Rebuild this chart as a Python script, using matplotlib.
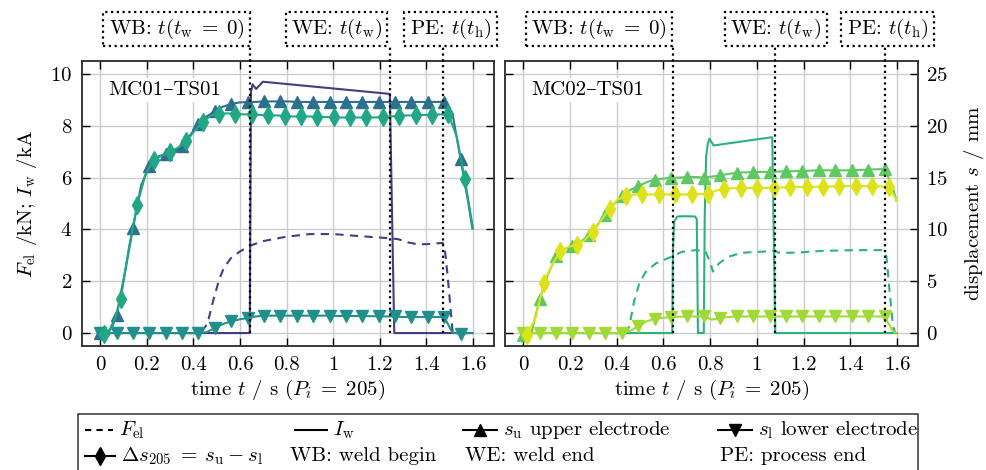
import numpy as np
import matplotlib.pyplot as plt
from matplotlib.lines import Line2D
from matplotlib.patches import Rectangle

plt.rcParams['font.family'] = ['cmr10', 'DejaVu Serif']
plt.rcParams['mathtext.fontset'] = 'cm'
plt.rcParams['axes.formatter.use_mathtext'] = True
plt.rcParams['font.size'] = 15

# ---- data -------------------------------------------------------------
# displacement samples (mm); markers on every 2nd sample
STEP = 0.03515
t_grid = np.append(STEP * np.arange(46), 1.597)
t_grid_ds = 0.018 + STEP * np.arange(46)

# MC01-TS01
t_F1 = [0, 0.43, 0.46, 0.485, 0.51, 0.53, 0.56, 0.60, 0.645, 0.70, 0.80, 0.90, 1.00,
        1.10, 1.24, 1.28, 1.32, 1.36, 1.40, 1.47, 1.478, 1.49, 1.505, 1.513, 1.59]
F_el1 = [0, 0, 0.35, 1.25, 2.05, 2.5, 2.88, 3.15, 3.38, 3.55, 3.72, 3.82, 3.82,
         3.75, 3.66, 3.62, 3.5, 3.43, 3.43, 3.48, 3.3, 2.3, 0.8, 0, 0]
t_I1 = [0, 0.642, 0.647, 0.654, 0.669, 0.698, 1.243, 1.262, 1.597]
I_w1 = [0, 0, 9.3, 9.6, 9.42, 9.7, 9.23, 0, 0]
s_u1 = [0, 0, 1.75, 5.75, 10.1, 14.25, 16.1, 17.0, 17.3, 17.5,
        18.0, 19.1, 20.2, 20.9, 21.4, 21.85, 22.1, 22.25, 22.3, 22.3,
        22.35, 22.35, 22.35, 22.35, 22.3, 22.3, 22.3, 22.3, 22.3, 22.3,
        22.3, 22.3, 22.3, 22.3, 22.3, 22.3, 22.3, 22.3, 22.3, 22.3,
        22.3, 22.3, 22.3, 21.2, 16.8, 12.3, 10.1]
ds1 = [-0.1, 0.6, 3.3, 8.25, 12.35, 15.25, 16.7, 17.1, 17.5, 17.9,
       18.5, 19.5, 20.35, 21.0, 21.15, 21.2, 21.15, 21.1, 21.1, 21.05,
       21.0, 21.0, 20.95, 20.9, 20.9, 20.9, 20.85, 20.85, 20.8, 20.8,
       20.8, 20.8, 20.8, 20.8, 20.85, 20.9, 20.95, 21.0, 21.0, 21.05,
       21.05, 21.1, 21.1, 19.0, 14.85, 10.1]
s_l1 = [0, 0, 0, 0, 0, 0, 0, 0, 0, 0,
        0, 0, 0, 0.08, 0.48, 0.88, 1.12, 1.32, 1.45, 1.6,
        1.68, 1.68, 1.68, 1.68, 1.68, 1.68, 1.68, 1.68, 1.68, 1.65,
        1.65, 1.65, 1.63, 1.63, 1.62, 1.6, 1.6, 1.55, 1.55, 1.55,
        1.55, 1.55, 1.55, 0.05, -0.05, 0, 0]
events1 = [0.645, 1.245, 1.47]

# MC02-TS01
t_F2 = [0, 0.44, 0.454, 0.476, 0.497, 0.525, 0.568, 0.625, 0.681, 0.738, 0.781, 0.802,
        0.812, 0.838, 0.88, 0.937, 1.022, 1.079, 1.093, 1.164, 1.278, 1.42, 1.54,
        1.555, 1.569, 1.583, 1.593]
F_el2 = [0, 0, 0.26, 1.28, 1.92, 2.37, 2.69, 2.91, 3.14, 3.2, 3.14, 2.69,
         2.37, 2.69, 2.95, 3.1, 3.14, 3.18, 3.1, 3.1, 3.17, 3.2, 3.2,
         2.95, 1.54, 0.26, 0]
t_I2 = [0, 0.638, 0.641, 0.646, 0.66, 0.69, 0.735, 0.743, 0.748, 0.773, 0.777, 0.783,
        0.79, 0.797, 0.815, 1.066, 1.079, 1.6]
I_w2 = [0, 0, 3.2, 4.3, 4.5, 4.51, 4.5, 4.4, 0, 0, 4.5, 6.8,
        7.3, 7.5, 7.24, 7.56, 0, 0]
s_u2 = [-0.15, 0, 3.27, 5.6, 7.45, 8.1, 8.42, 8.8, 9.46, 10.4,
        11.4, 12.4, 13.2, 13.8, 14.17, 14.55, 14.8, 14.9, 14.97, 15.0,
        15.06, 15.06, 15.0, 15.1, 15.22, 15.35, 15.48, 15.5, 15.54, 15.55,
        15.55, 15.58, 15.6, 15.62, 15.64, 15.67, 15.7, 15.7, 15.7, 15.7,
        15.7, 15.74, 15.77, 15.8, 15.83, 14.1, 12.8]
ds2 = [-0.15, 1.5, 4.8, 6.6, 7.9, 8.3, 8.5, 9.0, 9.78, 10.9,
       12.0, 12.9, 13.2, 13.35, 13.37, 13.37, 13.37, 13.37, 13.37, 13.37,
       13.37, 13.4, 13.46, 13.75, 13.94, 13.97, 14.0, 14.0, 14.0, 14.0,
       14.02, 14.05, 14.07, 14.1, 14.1, 14.12, 14.13, 14.15, 14.17, 14.17,
       14.17, 14.17, 14.17, 14.15, 14.1, 12.8]
s_l2 = [0, 0, 0, 0, 0, 0, 0, 0, 0, 0,
        0, 0, 0, 0.2, 0.64, 1.12, 1.38, 1.48, 1.54, 1.58,
        1.6, 1.6, 1.6, 1.3, 1.44, 1.55, 1.6, 1.6, 1.6, 1.6,
        1.6, 1.6, 1.6, 1.6, 1.6, 1.6, 1.6, 1.6, 1.6, 1.6,
        1.6, 1.6, 1.6, 1.6, 1.6, 0.2, 0]
events2 = [0.64, 1.079, 1.548]

x_ticks = [0, 0.2, 0.4, 0.6, 0.8, 1.0, 1.2, 1.4, 1.6]
x_ticklabels = ['0', '0.2', '0.4', '0.6', '0.8', '1', '1.2', '1.4', '1.6']
f_ticks = [0, 2, 4, 6, 8, 10]
s_ticks = [0, 5, 10, 15, 20, 25]

colors1 = ['#433d84', '#2d708e', '#21908d', '#22a785']
colors2 = ['#2db27d', '#5ec962', '#a0da39', '#dde318']
box_labels = [r'WB: $t(t_\mathrm{w}\;=\;0)$', r'WE: $t(t_\mathrm{w})$', r'PE: $t(t_\mathrm{h})$']

# ---- figure -----------------------------------------------------------
W, H = 986, 470
fig = plt.figure(figsize=(W / 100, H / 100), dpi=100)


def fx(x):
    return x / W


def fy(y):
    return 1 - y / H


MARK_IDX = list(range(0, 46, 2))


def panel(ax, tag, tF, F, tI, I, su, ds, sl, cols, events, box_x, left_labels, right_labels):
    ax2 = ax.twinx()
    ax.set_xlim(-0.078, 1.69)
    ax.set_ylim(-0.5, 10.5)
    ax2.set_ylim(-1.25, 26.25)
    ax.set_xticks(x_ticks)
    ax.set_xticklabels(x_ticklabels)
    ax.set_yticks(f_ticks)
    ax2.set_yticks(s_ticks)
    ax.grid(True, color='#cccccc', lw=1.0)
    ax.set_axisbelow(True)
    ax.tick_params(direction='in', top=True, length=6, width=1, pad=7,
                   labelleft=left_labels)
    ax2.tick_params(direction='in', length=6, width=1, pad=6, labelright=right_labels)
    for a in (ax, ax2):
        for sp in a.spines.values():
            sp.set_linewidth(1.1)
            sp.set_color('#333333')

    ax.plot(tF, F, '--', color=cols[0], lw=1.5, dashes=(4, 3))
    ax.plot(tI, I, '-', color=cols[0], lw=1.5)
    ax2.plot(t_grid, su, '-', color=cols[1], lw=1.5, marker='^', ms=8, markevery=MARK_IDX)
    ax2.plot(t_grid, sl, '-', color=cols[2], lw=1.5, marker='v', ms=8, markevery=MARK_IDX)
    ax2.plot(t_grid_ds, ds, '-', color=cols[3], lw=1.5, marker='d', ms=9, markevery=MARK_IDX)

    for t in events:
        ax2.plot([t, t], [0, 27.6], color='black', lw=1.6, ls=(0, (1, 1.6)),
                 clip_on=False, zorder=5)
    for xc, lab in zip(box_x, box_labels):
        fig.text(fx(xc), fy(29), lab, ha='center', va='center',
                 bbox=dict(boxstyle='square,pad=0.25', fc='white', ec='black',
                           ls=(0, (1, 1.6)), lw=1.6))

    ax2.text(0.063, 0.898, tag, transform=ax2.transAxes, ha='left', va='center',
             bbox=dict(boxstyle='square,pad=0.15', fc='white', ec='none'), zorder=6)
    ax.set_xlabel(r'time $t$ / s $(P_i\;=\;205)$', labelpad=3)
    return ax2


ax_l = fig.add_axes([fx(82), fy(346), (494 - 82) / W, (346 - 61) / H])
ax_r = fig.add_axes([fx(505), fy(346), (918 - 505) / W, (346 - 61) / H])

panel(ax_l, 'MC01–TS01', t_F1, F_el1, t_I1, I_w1, s_u1, ds1, s_l1, colors1, events1,
      [176.5, 336.5, 450.5], True, False)
ax_l.set_ylabel(r'$F_\mathrm{el}$ /kN; $I_\mathrm{w}$ /kA', labelpad=8)
ax2r = panel(ax_r, 'MC02–TS01', t_F2, F_el2, t_I2, I_w2, s_u2, ds2, s_l2, colors2, events2,
             [599, 776, 887.5], False, True)
ax2r.set_ylabel(r'displacement $s$ / mm', labelpad=10)

# ---- legend (drawn by hand to match the layout) ----------------------
fig.add_artist(Rectangle((fx(78), fy(480)), fx(918) - fx(78), fy(414) - fy(480),
                         transform=fig.transFigure, fill=False, ec='#333333', lw=1.1))
r1, r2 = 430, 456
handles = [
    (85, 113, r1, '--', None, r'$F_\mathrm{el}$'),
    (295, 327, r1, '-', None, r'$I_\mathrm{w}$'),
    (463, 497, r1, '-', '^', r'$s_\mathrm{u}$ upper electrode'),
    (718, 752, r1, '-', 'v', r'$s_\mathrm{l}$ lower electrode'),
    (85, 115, r2, '-', 'd', r'$\Delta s_{205}\;=\;s_\mathrm{u} - s_\mathrm{l}$'),
]
for x0, x1, y, ls, mk, lab in handles:
    fig.add_artist(Line2D([fx(x0), fx(x1)], [fy(y), fy(y)], transform=fig.transFigure,
                          color='black', lw=1.5, ls=ls, dashes=(3, 2.5) if ls == '--' else (None, None)))
    if mk:
        fig.add_artist(Line2D([fx((x0 + x1) / 2)], [fy(y)], transform=fig.transFigure,
                              color='black', marker=mk, ms=8 if mk != 'd' else 9, ls='none'))
    fig.text(fx(x1 + 6), fy(y), lab, ha='left', va='center')
for x, lab in [(290, 'WB: weld begin'), (465, 'WE: weld end'), (720, 'PE: process end')]:
    fig.text(fx(x), fy(r2), lab, ha='left', va='center')

fig.savefig('out.png', dpi=100)
